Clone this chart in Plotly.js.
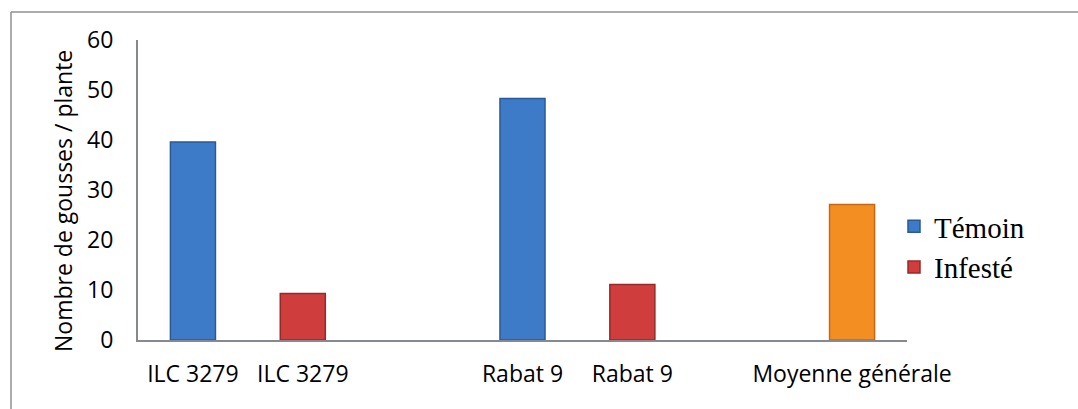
<!DOCTYPE html>
<html>
<head>
<meta charset="utf-8">
<script src="https://cdn.plot.ly/plotly-3.0.1.min.js"></script>
<style>
  html, body { margin: 0; padding: 0; background: #ffffff; }
  #chart { width: 1078px; height: 409px; }
</style>
</head>
<body>
<div id="chart"></div>
<script>
// Data
const categories = ["ILC 3279", "ILC 3279", "", "Rabat 9", "Rabat 9", "", "Moyenne générale"];
const temoin  = [39.6, null, null, 48.3, null, null, null];
const infeste = [null, 9.3, null, null, 11.1, null, null];
const moyenne = [null, null, null, null, null, null, 27.1];
const seriesNames = ["Témoin", "Infesté", "Moyenne générale"];
const yTitle = "Nombre de gousses / plante";

const positions = categories.map((_, i) => i);

// Plot area geometry (pixels)
const L = 138, R = 907, T = 40, B = 340, W = 1078, H = 409;
const px2x = p => (p - L) / (R - L);
const px2y = p => (B - p) / (B - T);

function barTrace(vals, name, fill, edge, showlegend) {
  return {
    type: "bar",
    x: positions,
    y: vals,
    name: name,
    width: 0.41,
    showlegend: showlegend,
    marker: { color: fill, line: { color: edge, width: 1.5 } },
    hoverinfo: "x+y"
  };
}

const data = [
  barTrace(temoin, seriesNames[0], "#3D7BC8", "#2A5A96", true),
  barTrace(infeste, seriesNames[1], "#CF3D3D", "#9A2828", true),
  barTrace(moyenne, seriesNames[2], "#F28E22", "#C46A14", false)
];

const layout = {
  width: W,
  height: H,
  margin: { l: L, r: W - R, t: T, b: H - B, pad: 0 },
  paper_bgcolor: "#ffffff",
  plot_bgcolor: "#ffffff",
  barmode: "overlay",
  font: { family: "Open Sans, sans-serif", size: 23, color: "#000000" },
  showlegend: true,
  legend: {
    x: px2x(894), xanchor: "left",
    y: px2y(201), yanchor: "top",
    font: { family: "Liberation Serif, Times New Roman, serif", size: 29, color: "#000000" },
    bgcolor: "rgba(0,0,0,0)",
    tracegroupgap: 0,
    itemclick: false
  },
  xaxis: {
    range: [-0.5, categories.length - 0.5],
    tickmode: "array",
    tickvals: positions,
    ticktext: categories,
    showgrid: false,
    zeroline: false,
    showline: true,
    linecolor: "#868a90",
    linewidth: 2,
    ticks: "",
    ticklabelstandoff: 12,
    tickfont: { family: "Open Sans, sans-serif", size: 23, color: "#000000" },
    fixedrange: true
  },
  yaxis: {
    range: [0, 60],
    dtick: 10,
    showgrid: false,
    zeroline: false,
    showline: true,
    linecolor: "#868a90",
    linewidth: 2,
    ticks: "",
    ticklabelstandoff: 18,
    tickfont: { family: "Open Sans, sans-serif", size: 23, color: "#000000" },
    fixedrange: true
  },
  annotations: [
    {
      text: yTitle,
      xref: "paper", yref: "paper",
      x: px2x(63), y: px2y(201),
      xanchor: "center", yanchor: "middle",
      textangle: -90,
      showarrow: false,
      font: { family: "Open Sans, sans-serif", size: 23, color: "#000000" }
    }
  ],
  shapes: [
    {
      type: "line", xref: "paper", yref: "paper",
      x0: px2x(11), x1: px2x(1078), y0: px2y(12), y1: px2y(12),
      line: { color: "#8e9196", width: 1.5 }
    },
    {
      type: "line", xref: "paper", yref: "paper",
      x0: px2x(11), x1: px2x(11), y0: px2y(12), y1: px2y(409),
      line: { color: "#8e9196", width: 1.5 }
    }
  ]
};

Plotly.newPlot("chart", data, layout, { displayModeBar: false, staticPlot: true });
</script>
</body>
</html>
